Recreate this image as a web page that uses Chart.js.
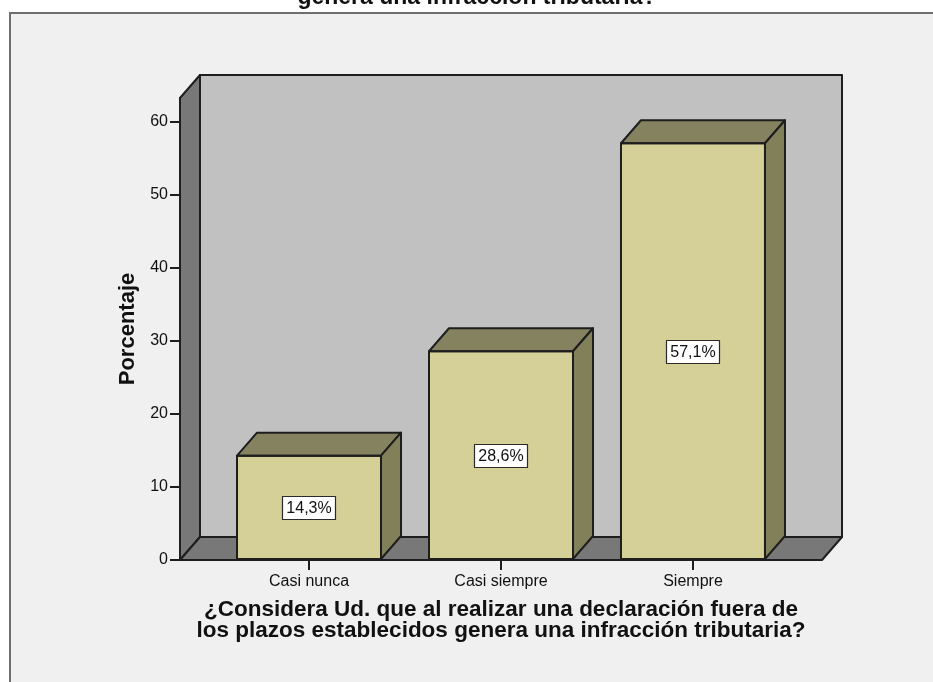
<!DOCTYPE html>
<html>
<head>
<meta charset="utf-8">
<script src="https://cdn.jsdelivr.net/npm/chart.js@4/dist/chart.umd.min.js"></script>
<style>
  html, body { margin: 0; padding: 0; background: #ffffff; }
  #wrap { width: 933px; height: 682px; }
</style>
</head>
<body>
<div id="wrap"><canvas id="chart" width="933" height="682"></canvas></div>
<script>
// Frequencies of the answers, in percent
const categories = ['Casi nunca', 'Casi siempre', 'Siempre'];
const percentages = [14.3, 28.6, 57.1];
const yTickValues = [0, 10, 20, 30, 40, 50, 60];
const titleTail = 'genera una infracción tributaria?';
const xTitleLines = [
  '¿Considera Ud. que al realizar una declaración fuera de',
  'los plazos establecidos genera una infracción tributaria?'
];
const yTitle = 'Porcentaje';

// 3D look: depth offset of the walls and boxes
const DEPTH_X = 20;
const DEPTH_Y = -23;

const FONT = 'Arial, "Liberation Sans", sans-serif';
const COLORS = {
  frame: '#f0f0f0',
  frameBorder: '#6f6f6f',
  backWall: '#c1c1c1',
  sideWall: '#787878',
  edge: '#1e1e1e',
  barFront: '#d4d098',
  barTop: '#85835f',
  barSide: '#828058',
  text: '#111111'
};

function formatPct(v) {
  return v.toFixed(1).replace('.', ',') + '%';
}

function poly(ctx, pts, fill, stroke, lw) {
  ctx.beginPath();
  ctx.moveTo(pts[0][0], pts[0][1]);
  for (let i = 1; i < pts.length; i++) ctx.lineTo(pts[i][0], pts[i][1]);
  ctx.closePath();
  if (fill) { ctx.fillStyle = fill; ctx.fill(); }
  if (stroke) { ctx.strokeStyle = stroke; ctx.lineWidth = lw; ctx.lineJoin = 'round'; ctx.stroke(); }
}

// Panel, walls and floor behind everything
const backdrop = {
  id: 'backdrop',
  beforeDraw(chart) {
    const ctx = chart.ctx;
    const W = chart.width, H = chart.height;
    const a = chart.chartArea;
    ctx.save();
    ctx.fillStyle = '#ffffff';
    ctx.fillRect(0, 0, W, H);
    ctx.fillStyle = COLORS.frame;
    ctx.fillRect(10, 13, W, H);
    ctx.strokeStyle = COLORS.frameBorder;
    ctx.lineWidth = 2;
    ctx.beginPath();
    ctx.moveTo(10, H);
    ctx.lineTo(10, 13);
    ctx.lineTo(W, 13);
    ctx.stroke();

    // last line of the chart heading, clipped by the top of the page
    ctx.fillStyle = COLORS.text;
    ctx.font = 'bold 23px ' + FONT;
    ctx.textAlign = 'center';
    ctx.textBaseline = 'alphabetic';
    ctx.fillText(titleTail, 477, 4);

    const L = a.left, R = a.right, T = a.top, B = a.bottom;
    // back wall
    poly(ctx, [[L + DEPTH_X, T + DEPTH_Y], [R + DEPTH_X, T + DEPTH_Y], [R + DEPTH_X, B + DEPTH_Y], [L + DEPTH_X, B + DEPTH_Y]],
      COLORS.backWall, COLORS.edge, 2);
    // left wall
    poly(ctx, [[L, B], [L, T], [L + DEPTH_X, T + DEPTH_Y], [L + DEPTH_X, B + DEPTH_Y]],
      COLORS.sideWall, COLORS.edge, 2);
    // floor
    poly(ctx, [[L, B], [R, B], [R + DEPTH_X, B + DEPTH_Y], [L + DEPTH_X, B + DEPTH_Y]],
      COLORS.sideWall, COLORS.edge, 2);
    ctx.restore();
  }
};

// Top and side faces of each bar, plus the value boxes
const boxes3d = {
  id: 'boxes3d',
  afterDatasetsDraw(chart) {
    const ctx = chart.ctx;
    const meta = chart.getDatasetMeta(0);
    ctx.save();
    meta.data.forEach((bar, i) => {
      const p = bar.getProps(['x', 'y', 'base', 'width'], true);
      const x0 = p.x - p.width / 2, x1 = p.x + p.width / 2;
      const top = p.y, base = p.base;
      poly(ctx, [[x0, top], [x0 + DEPTH_X, top + DEPTH_Y], [x1 + DEPTH_X, top + DEPTH_Y], [x1, top]],
        COLORS.barTop, COLORS.edge, 2);
      poly(ctx, [[x1, top], [x1 + DEPTH_X, top + DEPTH_Y], [x1 + DEPTH_X, base + DEPTH_Y], [x1, base]],
        COLORS.barSide, COLORS.edge, 2);
      poly(ctx, [[x0, top], [x1, top], [x1, base], [x0, base]], null, COLORS.edge, 2);

      // value label in the middle of the front face
      const label = formatPct(percentages[i]);
      ctx.font = '16px ' + FONT;
      const tw = ctx.measureText(label).width;
      const cy = (top + base) / 2;
      const bw = tw + 8, bh = 23;
      ctx.fillStyle = '#ffffff';
      ctx.fillRect(Math.round(p.x - bw / 2) + 0.5, Math.round(cy - bh / 2) + 0.5, Math.round(bw), bh);
      ctx.strokeStyle = '#2a2a2a';
      ctx.lineWidth = 1.2;
      ctx.strokeRect(Math.round(p.x - bw / 2) + 0.5, Math.round(cy - bh / 2) + 0.5, Math.round(bw), bh);
      ctx.fillStyle = COLORS.text;
      ctx.textAlign = 'center';
      ctx.textBaseline = 'middle';
      ctx.fillText(label, p.x, cy + 1);
    });
    ctx.restore();
  }
};

new Chart(document.getElementById('chart'), {
  type: 'bar',
  data: {
    datasets: [{
      data: categories.map((c, i) => ({ x: i, y: percentages[i] })),
      backgroundColor: COLORS.barFront,
      borderColor: COLORS.edge,
      borderWidth: 0,
      barThickness: 144
    }]
  },
  options: {
    responsive: false,
    animation: false,
    events: [],
    layout: { padding: { left: 115, right: 111, top: 98, bottom: 0 } },
    plugins: { legend: { display: false }, tooltip: { enabled: false }, title: { display: false } },
    scales: {
      x: {
        type: 'linear',
        offset: false,
        min: -0.672,
        max: 2.672,
        afterBuildTicks: s => { s.ticks = categories.map((c, i) => ({ value: i })); },
        afterFit: s => { s.height = 122; },
        ticks: {
          autoSkip: false,
          maxRotation: 0,
          padding: 2,
          color: COLORS.text,
          font: { family: FONT, size: 16 },
          callback: v => categories[v]
        },
        grid: { offset: false, drawOnChartArea: false, drawTicks: true, tickLength: 10, color: '#1e1e1e', lineWidth: 2 },
        border: { display: false },
        title: {
          display: true,
          text: xTitleLines,
          color: COLORS.text,
          font: { family: FONT, size: 22.5, weight: 'bold', lineHeight: 0.96 },
          padding: { top: 0, bottom: 40 }
        }
      },
      y: {
        min: 0,
        max: 63.3,
        afterBuildTicks: s => { s.ticks = yTickValues.map(v => ({ value: v })); },
        afterFit: s => { s.width = 65; },
        ticks: {
          padding: 2,
          color: COLORS.text,
          font: { family: FONT, size: 16 }
        },
        grid: { drawOnChartArea: false, drawTicks: true, tickLength: 10, color: '#1e1e1e', lineWidth: 2 },
        border: { display: true, color: '#1e1e1e', width: 2 },
        title: {
          display: true,
          text: yTitle,
          color: COLORS.text,
          font: { family: FONT, size: 22, weight: 'bold', lineHeight: 1.2 },
          padding: { top: 0, bottom: 0 }
        }
      }
    }
  },
  plugins: [backdrop, boxes3d]
});
</script>
</body>
</html>
